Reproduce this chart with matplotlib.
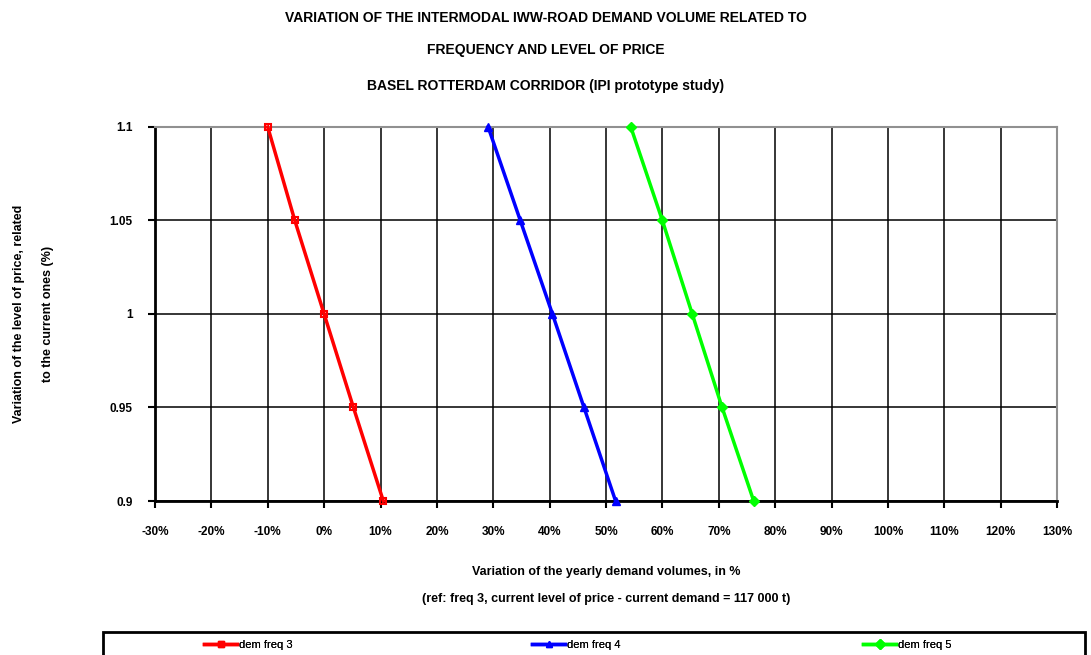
#!/usr/bin/env python3

import matplotlib as mpl
import matplotlib.pyplot as plt
from matplotlib.lines import Line2D
from matplotlib.patches import Rectangle
from matplotlib.ticker import FuncFormatter

# Data

price_level = [1.1, 1.05, 1.0, 0.95, 0.9]

dem_freq_3 = [-0.10, -0.052, 0.0, 0.052, 0.105]
dem_freq_4 = [0.291, 0.348, 0.405, 0.461, 0.517]
dem_freq_5 = [0.544, 0.600, 0.653, 0.706, 0.762]

series_names = ["dem freq 3", "dem freq 4", "dem freq 5"]
series_colors = ["#ff0000", "#0000ff", "#00ff00"]

x_ticks = [i / 100 for i in range(-30, 131, 10)]
y_ticks = [0.9, 0.95, 1.0, 1.05, 1.1]
y_ticklabels = ["0.9", "0.95", "1", "1.05", "1.1"]

title_lines = ["VARIATION OF THE INTERMODAL IWW-ROAD DEMAND VOLUME RELATED TO",
               "FREQUENCY AND LEVEL OF PRICE",
               "BASEL ROTTERDAM CORRIDOR (IPI prototype study)"]

# Formatting

mpl.rcParams['font.family'] = 'sans-serif'
mpl.rcParams['font.sans-serif'] = ['Liberation Sans', 'DejaVu Sans']

W, H = 1091, 655
fig = plt.figure(figsize=(W / 100, H / 100), dpi=100)
ax = fig.add_axes([155 / W, 1 - 501 / H, (1057 - 155) / W, (501 - 127) / H])

# Plot

ax.plot(dem_freq_3, price_level, color=series_colors[0], lw=2.5, marker='s',
        ms=5, mfc='none', mew=1.5, label=series_names[0], zorder=3, clip_on=False)
ax.plot(dem_freq_4, price_level, color=series_colors[1], lw=2.5, marker='^',
        ms=6, label=series_names[1], zorder=3, clip_on=False)
ax.plot(dem_freq_5, price_level, color=series_colors[2], lw=2.5, marker='D',
        ms=5, label=series_names[2], zorder=3, clip_on=False)

ax.set_xlim(-0.30, 1.30)
ax.set_ylim(0.9, 1.1)
ax.set_xticks(x_ticks)
ax.set_yticks(y_ticks)
ax.set_yticklabels(y_ticklabels)
ax.xaxis.set_major_formatter(FuncFormatter(lambda v, p: "%d%%" % round(v * 100)))

ax.grid(True, color='black', lw=1.1)
ax.set_axisbelow(True)
ax.tick_params(axis='both', direction='out', length=5, width=1.5,
               labelsize=8.5, colors='black')
ax.tick_params(axis='x', pad=13)
ax.tick_params(axis='y', pad=11)
for lab in ax.get_xticklabels() + ax.get_yticklabels():
    lab.set_fontweight('bold')

for side in ['left', 'bottom']:
    ax.spines[side].set_linewidth(2)
    ax.spines[side].set_color('black')
for side in ['top', 'right']:
    ax.spines[side].set_linewidth(1.5)
    ax.spines[side].set_color('#909090')

# Titles and labels

title_y = [18, 50, 86]
for line, ty in zip(title_lines, title_y):
    fig.text(0.5, 1 - ty / H, line, ha='center', va='center',
             fontsize=10, fontweight='bold')

ax.set_xlabel("Variation of the yearly demand volumes, in %\n\n"
              "(ref: freq 3, current level of price - current demand = 117 000 t)",
              fontsize=9, fontweight='bold', labelpad=20, linespacing=1.2)
ax.set_ylabel("Variation of the level of price, related\n\nto the current ones (%)",
              fontsize=9, fontweight='bold', labelpad=40, linespacing=1.3)

# Legend box at the bottom

fig.add_artist(Rectangle((103 / W, -0.05), (1085 - 103) / W, 0.05 + (H - 632) / H,
                         transform=fig.transFigure, fill=False, ec='black',
                         lw=2, clip_on=False))
lines = ax.get_lines()
legend_x = [204, 532, 863]
for ln, lx in zip(lines, legend_x):
    h = Line2D([], [], color=ln.get_color(), lw=2.5, marker=ln.get_marker(),
               ms=5, mfc=ln.get_color())
    leg = fig.legend([h], [ln.get_label()], loc='center left',
                     bbox_to_anchor=(lx / W, 1 - 645 / H), frameon=False,
                     fontsize=8, handlelength=3.0, handletextpad=0.15,
                     borderpad=0, borderaxespad=0)
    fig.add_artist(leg)

fig.savefig("out.png", dpi=100)
